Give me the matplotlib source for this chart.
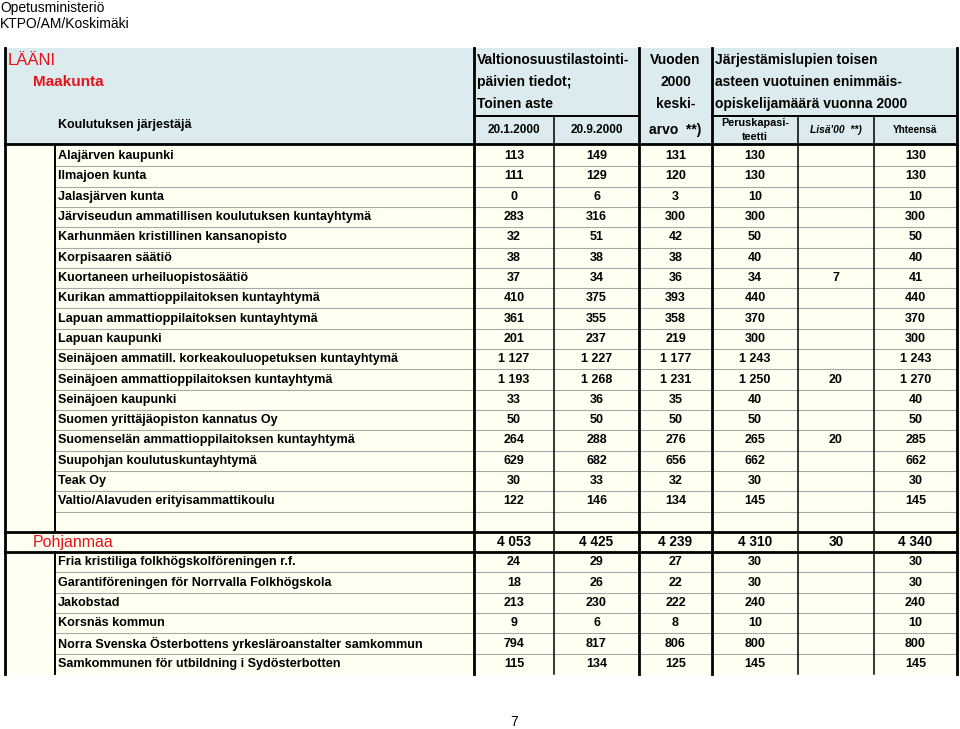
import matplotlib
matplotlib.use('agg')
import matplotlib.pyplot as plt
from matplotlib.patches import Rectangle

plt.rcParams['font.family'] = ['Liberation Sans', 'DejaVu Sans']

# +------+
# | Data |
# +------+
region_rows = ["Alajärven kaupunki", "Ilmajoen kunta", "Jalasjärven kunta",
               "Järviseudun ammatillisen koulutuksen kuntayhtymä",
               "Karhunmäen kristillinen kansanopisto", "Korpisaaren säätiö",
               "Kuortaneen urheiluopistosäätiö",
               "Kurikan ammattioppilaitoksen kuntayhtymä",
               "Lapuan ammattioppilaitoksen kuntayhtymä", "Lapuan kaupunki",
               "Seinäjoen ammatill. korkeakouluopetuksen kuntayhtymä",
               "Seinäjoen ammattioppilaitoksen kuntayhtymä",
               "Seinäjoen kaupunki", "Suomen yrittäjäopiston kannatus Oy",
               "Suomenselän ammattioppilaitoksen kuntayhtymä",
               "Suupohjan koulutuskuntayhtymä", "Teak Oy",
               "Valtio/Alavuden erityisammattikoulu"]
region_2001 = [113, 111, 0, 283, 32, 38, 37, 410, 361, 201, 1127, 1193, 33, 50, 264, 629, 30, 122]
region_2009 = [149, 129, 6, 316, 51, 38, 34, 375, 355, 237, 1227, 1268, 36, 50, 288, 682, 33, 146]
region_avg = [131, 120, 3, 300, 42, 38, 36, 393, 358, 219, 1177, 1231, 35, 50, 276, 656, 32, 134]
region_base = [130, 130, 10, 300, 50, 40, 34, 440, 370, 300, 1243, 1250, 40, 50, 265, 662, 30, 145]
region_extra = [None, None, None, None, None, None, 7, None, None, None, None, 20, None, None, 20, None, None, None]
region_total = [130, 130, 10, 300, 50, 40, 41, 440, 370, 300, 1243, 1270, 40, 50, 285, 662, 30, 145]

total_label = "Pohjanmaa"
total_values = [4053, 4425, 4239, 4310, 30, 4340]

pohj_rows = ["Fria kristiliga folkhögskolföreningen r.f.",
             "Garantiföreningen för Norrvalla Folkhögskola", "Jakobstad",
             "Korsnäs kommun",
             "Norra Svenska Österbottens yrkesläroanstalter samkommun",
             "Samkommunen för utbildning i Sydösterbotten"]
pohj_2001 = [24, 18, 213, 9, 794, 115]
pohj_2009 = [29, 26, 230, 6, 817, 134]
pohj_avg = [27, 22, 222, 8, 806, 125]
pohj_base = [30, 30, 240, 10, 800, 145]
pohj_extra = [None, None, None, None, None, None]
pohj_total = [30, 30, 240, 10, 800, 145]


def fmt(v):
  if v is None:
    return ""
  return "{:,}".format(v).replace(",", " ")


# +--------+
# | Layout |
# +--------+
fig = plt.figure(figsize=(9.6, 7.29), dpi=100)
ax = fig.add_axes([0, 0, 1, 1])
ax.set_xlim(0, 960)
ax.set_ylim(729, 0)
ax.axis('off')

head_bg = '#dcebee'
cell_bg = '#fffff2'
red = '#e3121b'
thick = 2.0
thin = 1.1
name_fs = 9.1
num_fs = 9.0

x_left, x_inner, x_names, x_right = 5, 55, 474, 957
col_edges = [474, 554, 639, 712, 798, 874, 957]
col_centers = [(col_edges[i] + col_edges[i + 1]) / 2 for i in range(6)]
head_top, head_mid, head_bot = 48, 116, 144
row_top = 146
n_rows = len(region_rows) + 2 + len(pohj_rows)
row_h = (674 - row_top) / n_rows
y_bottom = row_top + n_rows * row_h

# backgrounds
ax.add_patch(Rectangle((x_left, head_top), x_right - x_left, head_bot - head_top,
                       facecolor=head_bg, edgecolor='none', zorder=0))
ax.add_patch(Rectangle((x_left, head_bot), x_right - x_left, y_bottom - head_bot,
                       facecolor=cell_bg, edgecolor='none', zorder=0))

# page texts
ax.text(0, 8, "Opetusministeriö", fontsize=10, va='center', ha='left')
ax.text(0, 24, "KTPO/AM/Koskimäki", fontsize=10, va='center', ha='left')
ax.text(514, 722, "7", fontsize=10, va='center', ha='center')

# header texts
ax.text(8, 60, "LÄÄNI", fontsize=12, color=red, va='center')
ax.text(33, 82, "Maakunta", fontsize=11, color=red, fontweight='bold', va='center')
ax.text(58, 125, "Koulutuksen järjestäjä", fontsize=9, fontweight='bold', va='center')

hx = 477
for y, t in zip([60, 82, 104], ["Valtionosuustilastointi-", "päivien tiedot;", "Toinen aste"]):
  ax.text(hx, y, t, fontsize=10, fontweight='bold', va='center')
for y, t in zip([60, 82, 104, 130], ["Vuoden", "2000", "keski-", "arvo  **)"]):
  ax.text(col_centers[2], y, t, fontsize=10, fontweight='bold', va='center', ha='center')
for y, t in zip([60, 82, 104], ["Järjestämislupien toisen", "asteen vuotuinen enimmäis-",
                                "opiskelijamäärä vuonna 2000"]):
  ax.text(715, y, t, fontsize=10, fontweight='bold', va='center')
ax.text(col_centers[0], 130, "20.1.2000", fontsize=8.5, fontweight='bold', va='center', ha='center')
ax.text(col_centers[1], 130, "20.9.2000", fontsize=8.5, fontweight='bold', va='center', ha='center')
ax.text(col_centers[3], 123, "Peruskapasi-", fontsize=7.8, fontweight='bold', va='center', ha='center')
ax.text(col_centers[3], 137, "teetti", fontsize=7.8, fontweight='bold', va='center', ha='center')
ax.text(col_centers[4], 130, "Lisä'00  **)", fontsize=7.4, fontweight='bold', style='italic',
        va='center', ha='center')
ax.text(col_centers[5], 130, "Yhteensä", fontsize=7.2, fontweight='bold', va='center', ha='center')

# header lines
for x in [x_left, x_names, col_edges[2], col_edges[3], x_right]:
  ax.plot([x, x], [head_top, y_bottom], color='black', lw=thick, zorder=3)
for x in [col_edges[1], col_edges[4], col_edges[5]]:
  ax.plot([x, x], [head_mid, y_bottom], color='black', lw=thin, zorder=3)
ax.plot([col_edges[0], col_edges[2]], [head_mid, head_mid], color='black', lw=thin + 0.3, zorder=3)
ax.plot([col_edges[3], col_edges[6]], [head_mid, head_mid], color='black', lw=thin + 0.3, zorder=3)
ax.plot([x_left, x_right], [head_bot, head_bot], color='black', lw=thick, zorder=3)

# +------+
# | Rows |
# +------+
rows = []
for i, name in enumerate(region_rows):
  rows.append((name, [region_2001[i], region_2009[i], region_avg[i],
                      region_base[i], region_extra[i], region_total[i]]))
rows.append(("", [None] * 6))
rows.append(None)  # total row
for i, name in enumerate(pohj_rows):
  rows.append((name, [pohj_2001[i], pohj_2009[i], pohj_avg[i],
                      pohj_base[i], pohj_extra[i], pohj_total[i]]))

for r, row in enumerate(rows):
  y0 = row_top + r * row_h
  yc = y0 + row_h / 2
  if row is None:
    ax.plot([x_left, x_right], [y0, y0], color='black', lw=thick, zorder=3)
    ax.plot([x_left, x_right], [y0 + row_h, y0 + row_h], color='black', lw=thick, zorder=3)
    ax.text(33, yc, total_label, fontsize=11.5, color=red, va='center')
    for c, v in enumerate(total_values):
      ax.text(col_centers[c], yc, fmt(v), fontsize=9.8, fontweight='bold',
              va='center', ha='center')
    continue
  name, vals = row
  ax.plot([x_inner, x_inner], [y0, y0 + row_h], color='black', lw=thin + 0.3, zorder=3)
  if r < len(rows) - 1 and rows[r + 1] is not None:
    ax.plot([x_inner, x_right], [y0 + row_h, y0 + row_h], color='#a8a8a8', lw=0.8, zorder=2)
  ax.text(58, yc, name, fontsize=name_fs, fontweight='bold', va='center')
  for c, v in enumerate(vals):
    ax.text(col_centers[c], yc, fmt(v), fontsize=num_fs, fontweight='bold',
            va='center', ha='center')

fig.savefig('out.png', dpi=100)
